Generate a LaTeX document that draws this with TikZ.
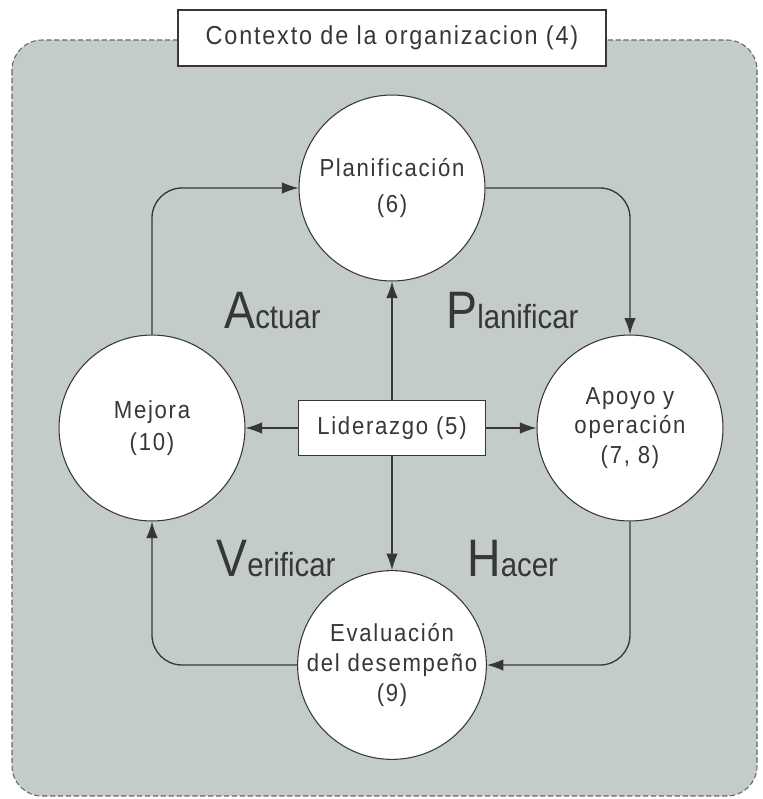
\documentclass[tikz,border=0pt]{standalone}
\usepackage{fontspec}
\setmainfont{Liberation Sans}[FakeStretch=0.9,LetterSpace=7]
\newfontfamily\rotulo{Liberation Sans}[FakeStretch=0.88]
\usetikzlibrary{arrows.meta}
\definecolor{fondo}{RGB}{196,204,202}
\definecolor{tinta}{RGB}{55,55,55}

\begin{document}
\begin{tikzpicture}[x=0.02cm,y=-0.02cm,
  every node/.style={text=tinta},
  fase/.style={circle,draw=tinta,fill=white,line width=0.6pt,minimum size=3.72cm,inner sep=0pt,align=center,font=\fontsize{14}{17}\selectfont},
  caja/.style={draw=tinta,fill=white,line width=0.9pt,inner sep=0pt,font=\fontsize{14}{16}\selectfont},
  flecha/.style={draw=tinta,line width=0.75pt,-{Latex[length=3.3mm,width=2.3mm]}},
  ciclo/.style={flecha,rounded corners=0.6cm},
  letra/.style={anchor=base west,inner sep=0pt,font=\rotulo\fontsize{19}{19}\selectfont}]
\useasboundingbox (0,0) rectangle (762,799);
\draw[dash pattern=on 3pt off 1.5pt,draw=black!60,fill=fondo,line width=0.6pt,rounded corners=0.6cm] (12,40) rectangle (757,796);
\node[caja,minimum width=8.56cm,minimum height=1.12cm,font=\fontsize{14.8}{16}\selectfont] (ctx) at (392,38) {Contexto de la organizacion (4)};

\node[fase] (plan) at (392,188) {Planificación\\[3pt](6)};
\node[fase] (mej) at (152,428) {Mejora\\[1pt](10)};
\node[fase] (apo) at (630,428) {Apoyo y\\operación\\(7, 8)};
\node[fase] (eval) at (392,665) {Evaluación\\del desempeño\\(9)};
\node[caja,minimum width=3.74cm,minimum height=1.1cm] (lid) at (392,428) {Liderazgo (5)};

\draw[flecha] (lid) -- (plan);
\draw[flecha] (lid) -- (eval);
\draw[flecha] (lid) -- (mej);
\draw[flecha] (lid) -- (apo);

\draw[ciclo] (mej.north) |- (plan.west);
\draw[ciclo] (plan.east) -| (apo.north);
\draw[ciclo] (apo.south) |- (eval.east);
\draw[ciclo] (eval.west) -| (mej.south);

\node[letra] (act) at (224,328) {\fontsize{30}{30}\selectfont A\fontsize{19}{19}\selectfont ctuar};
\node[letra] (pla) at (446,328) {\fontsize{30}{30}\selectfont P\fontsize{19}{19}\selectfont lanificar};
\node[letra] (ver) at (216,576) {\fontsize{30}{30}\selectfont V\fontsize{19}{19}\selectfont erificar};
\node[letra] (hac) at (467,576) {\fontsize{30}{30}\selectfont H\fontsize{19}{19}\selectfont acer};
\end{tikzpicture}
\end{document}
